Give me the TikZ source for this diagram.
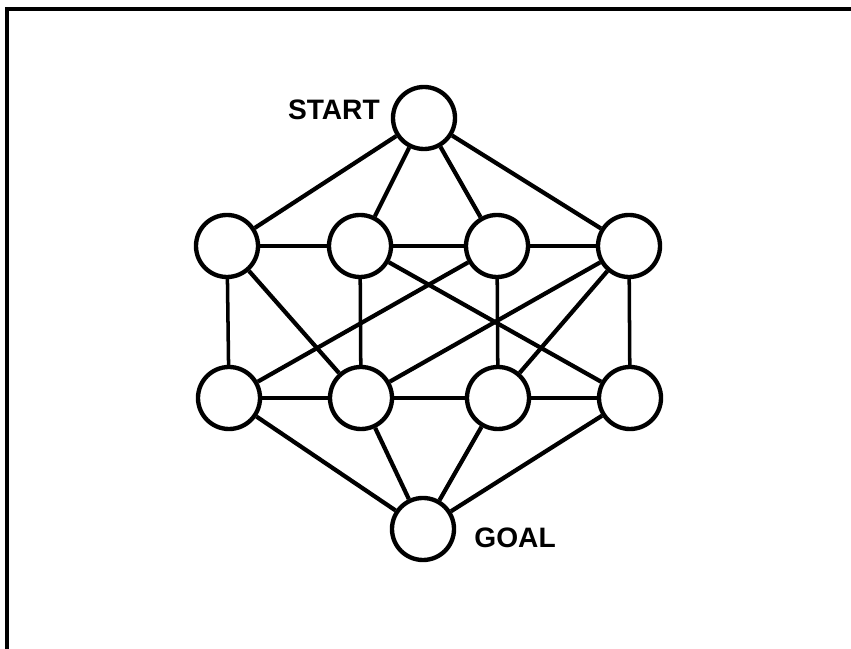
\documentclass[tikz,border=0pt]{standalone}
\usepackage{fontspec}
\setmainfont{Liberation Sans}
\usetikzlibrary{positioning}
\tikzset{
  % State circle
  st/.style={circle,draw,line width=3.1pt,minimum size=1.55cm,inner sep=0pt},
  % Edges (slanted and straight)
  ed/.style={line width=3pt},
  eh/.style={line width=2.5pt},
  % Label
  lbl/.style={inner sep=0pt,font=\fontsize{20}{24}\selectfont\bfseries}
}
\begin{document}
\begin{tikzpicture}[x=0.025cm,y=-0.025cm]
  \useasboundingbox (0,0) rectangle (851,649);

  % frame (only top and left edges show)
  \draw[line width=2.4pt] (7,660) -- (7,9) -- (860,9);

  %------ NODES ------
  \node[st] (start) at (424,118) {};
  \node[st] (a1) at (227,246) {};
  \node[st] (a2) at (360,246) {};
  \node[st] (a3) at (497,246) {};
  \node[st] (a4) at (629,246) {};
  \node[st] (b1) at (229,398) {};
  \node[st] (b2) at (361,398) {};
  \node[st] (b3) at (498,398) {};
  \node[st] (b4) at (630,398) {};
  \node[st] (goal) at (423,529) {};

  % labels
  \node[lbl,anchor=base east] (startlbl) at ([xshift=-0.27cm,yshift=-0.03cm]start.west) {START};
  \node[lbl,anchor=base west] (goallbl) at ([xshift=0.45cm,yshift=-0.46cm]goal.east) {GOAL};

  %------ EDGES ------
  \foreach \n in {a1,a2,a3,a4} \draw[ed] (start) -- (\n);
  \foreach \n in {b1,b2,b3,b4} \draw[ed] (\n) -- (goal);
  \draw[eh] (a1) -- (a2);
  \draw[eh] (a2) -- (a3);
  \draw[eh] (a3) -- (a4);
  \draw[eh] (b1) -- (b2);
  \draw[eh] (b2) -- (b3);
  \draw[eh] (b3) -- (b4);
  \draw[eh] (a1) -- (b1);
  \draw[eh] (a2) -- (b2);
  \draw[eh] (a3) -- (b3);
  \draw[eh] (a4) -- (b4);

  % crossing diagonals
  \draw[ed] (a1) -- (b2);
  \draw[ed] (a2) -- (b4);
  \draw[ed] (a3) -- (b1);
  \draw[ed] (a4) -- (b2);
  \draw[ed] (a4) -- (b3);
\end{tikzpicture}
\end{document}
